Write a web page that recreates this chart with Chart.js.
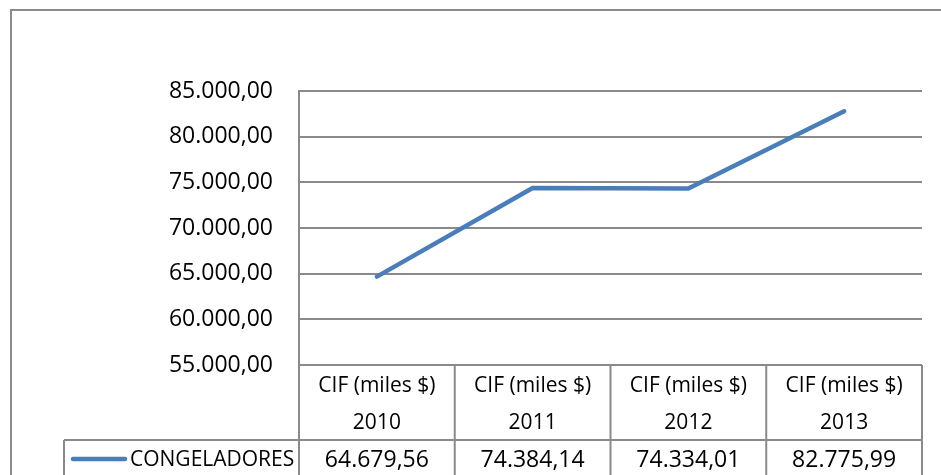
<!DOCTYPE html>
<html>
<head>
<meta charset="utf-8">
<script src="https://cdn.jsdelivr.net/npm/chart.js@4/dist/chart.umd.min.js"></script>
<style>
  body { margin: 0; background: #fff; }
  canvas { display: block; }
</style>
</head>
<body>
<canvas id="grafica" width="941" height="475"></canvas>
<script>
// datos
const anios = ['2010', '2011', '2012', '2013'];
const encabezado = 'CIF (miles $)';
const serieNombre = 'CONGELADORES';
const congeladores = [64679.56, 74384.14, 74334.01, 82775.99];
const ejeMin = 55000;
const ejeMax = 85000;
const ejePaso = 5000;

const fuente = '"Open Sans", "Noto Sans", sans-serif';
const gris = '#8a8a8a';
const azul = '#4A7EBB';

// formato 85.000,00
function formato(v) {
    const partes = v.toFixed(2).split('.');
    const entero = partes[0].replace(/\B(?=(\d{3})+(?!\d))/g, '.');
    return entero + ',' + partes[1];
}

// marco exterior + tabla de datos debajo del grafico
const tablaPlugin = {
    id: 'tablaDatos',
    beforeDraw(chart) {
        const ctx = chart.ctx;
        ctx.save();
        ctx.strokeStyle = gris;
        ctx.lineWidth = 2;
        ctx.beginPath();
        ctx.moveTo(11, chart.height + 2);
        ctx.lineTo(11, 10);
        ctx.lineTo(chart.width + 2, 10);
        ctx.stroke();
        ctx.restore();
    },
    afterDraw(chart) {
        const ctx = chart.ctx;
        const x = chart.scales.x;
        const area = chart.chartArea;
        const paso = x.getPixelForValue(1) - x.getPixelForValue(0);
        const filaTop = area.bottom;
        const filaDatos = 440;
        const fondo = chart.height + 2;
        const leyendaX = 64;

        ctx.save();
        ctx.strokeStyle = gris;
        ctx.lineWidth = 2;
        ctx.beginPath();
        // lineas verticales de columnas
        for (let i = 0; i <= anios.length; i++) {
            const bx = x.getPixelForValue(0) - paso / 2 + i * paso;
            ctx.moveTo(bx, filaTop);
            ctx.lineTo(bx, fondo);
        }
        // separador fila de datos
        ctx.moveTo(leyendaX, filaDatos);
        ctx.lineTo(area.right, filaDatos);
        ctx.moveTo(leyendaX, filaDatos);
        ctx.lineTo(leyendaX, fondo);
        ctx.stroke();

        // textos
        ctx.fillStyle = '#000';
        ctx.textAlign = 'center';
        ctx.textBaseline = 'middle';
        anios.forEach((a, i) => {
            const cx = x.getPixelForValue(i);
            ctx.font = '21px ' + fuente;
            ctx.fillText(encabezado, cx, 386);
            ctx.fillText(a, cx, 423);
            ctx.font = '23px ' + fuente;
            ctx.fillText(formato(congeladores[i]), cx, 460);
        });

        // clave de la serie
        ctx.strokeStyle = azul;
        ctx.lineWidth = 4.5;
        ctx.lineCap = 'round';
        ctx.beginPath();
        ctx.moveTo(73, 459);
        ctx.lineTo(125, 459);
        ctx.stroke();
        ctx.font = '21px ' + fuente;
        ctx.textAlign = 'left';
        ctx.fillText(serieNombre, 130, 460);
        ctx.restore();
    }
};

const ctx = document.getElementById('grafica').getContext('2d');
new Chart(ctx, {
    type: 'line',
    data: {
        labels: anios,
        datasets: [{
            label: serieNombre,
            data: congeladores,
            borderColor: azul,
            borderWidth: 4.5,
            borderCapStyle: 'round',
            borderJoinStyle: 'round',
            pointRadius: 0,
            tension: 0,
            fill: false
        }]
    },
    options: {
        responsive: false,
        animation: false,
        layout: {
            padding: { left: 0, top: 91, right: 19, bottom: 110 }
        },
        plugins: {
            legend: { display: false },
            tooltip: { enabled: false }
        },
        scales: {
            x: {
                display: false,
                offset: true
            },
            y: {
                min: ejeMin,
                max: ejeMax,
                afterFit: (scale) => { scale.width = 299; },
                ticks: {
                    stepSize: ejePaso,
                    padding: 26,
                    color: '#000',
                    font: { family: fuente, size: 23 },
                    callback: (v) => formato(v)
                },
                grid: {
                    color: gris,
                    lineWidth: 2,
                    drawTicks: false
                },
                border: {
                    display: true,
                    color: gris,
                    width: 2
                }
            }
        }
    },
    plugins: [tablaPlugin]
});
</script>
</body>
</html>
